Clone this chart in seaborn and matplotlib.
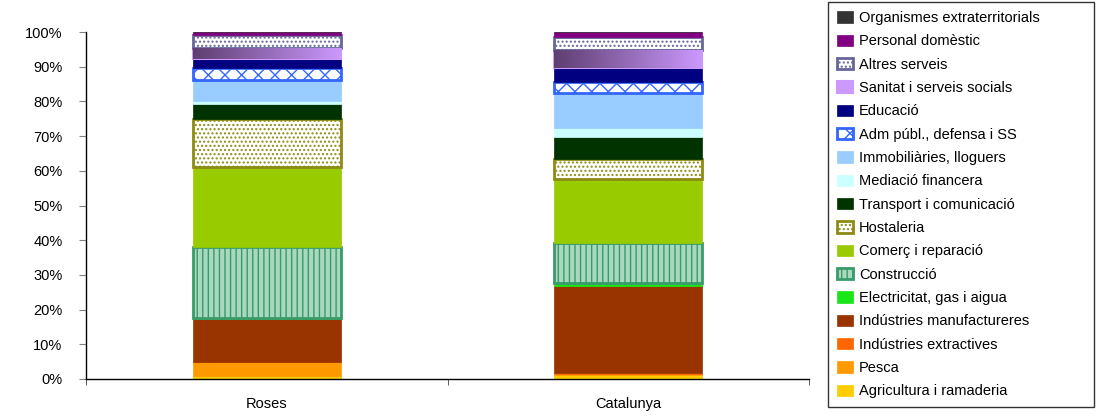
import numpy as np
import matplotlib
matplotlib.use("Agg")
import matplotlib.pyplot as plt
import seaborn as sns
from matplotlib.colors import LinearSegmentedColormap
from matplotlib.ticker import FuncFormatter

# Data: share of employment by sector (%), bottom to top of the stack
places = ['Roses', 'Catalunya']
sectors = ['Agricultura i ramaderia', 'Pesca', 'Indústries extractives',
           'Indústries manufactureres', 'Electricitat, gas i aigua', 'Construcció',
           'Comerç i reparació', 'Hostaleria', 'Transport i comunicació',
           'Mediació financera', 'Immobiliàries, lloguers', 'Adm públ., defensa i SS',
           'Educació', 'Sanitat i serveis socials', 'Altres serveis',
           'Personal domèstic', 'Organismes extraterritorials']
roses = [0.9, 4.0, 0.0, 12.4, 0.4, 20.4, 22.9, 13.9, 4.3, 1.0, 6.0, 3.5, 2.4, 3.4, 3.7, 0.8, 0.0]
catalunya = [1.2, 0.1, 0.3, 25.2, 0.8, 11.5, 18.5, 5.8, 6.4, 2.6, 10.1, 3.2, 3.8, 5.3, 3.8, 1.4, 0.0]

# style per sector: face, edge, hatch, edge width
styles = [
    ('#FFCC00', '#FFCC00', None, 0.5),
    ('#FF9900', '#FF9900', None, 0.5),
    ('#FF6600', '#FF6600', None, 0.5),
    ('#993300', '#993300', None, 0.5),
    ('#19E619', '#19E619', None, 0.5),
    ('#A8D8BE', '#3A9A6A', '|||', 2.0),
    ('#99CC00', '#99CC00', None, 0.5),
    ('#FFFFFF', '#8C8C14', '....', 2.0),
    ('#003300', '#003300', None, 0.5),
    ('#CCFFFF', '#CCFFFF', None, 0.5),
    ('#99CCFF', '#99CCFF', None, 0.5),
    ('#FFFFFF', '#3366FF', 'xx', 2.0),
    ('#000080', '#000080', None, 0.5),
    ('#CC99FF', '#CC99FF', None, 1.5),
    ('#FFFFFF', '#666699', '....', 2.0),
    ('#800080', '#800080', None, 0.5),
    ('#333333', '#333333', None, 0.5),
]

sns.set_style('white')
plt.rcParams['font.family'] = ['Liberation Sans', 'DejaVu Sans']
plt.rcParams['hatch.linewidth'] = 1.0
plt.rcParams['text.color'] = 'black'
plt.rcParams['xtick.labelcolor'] = 'black'
plt.rcParams['ytick.labelcolor'] = 'black'

fig = plt.figure(figsize=(10.98, 4.16), dpi=100)
ax = fig.add_axes([86 / 1098, 37 / 416, 723 / 1098, 347 / 416])

grad_cmap = LinearSegmentedColormap.from_list('san', ['#5E3E70', '#CC99FF'])

bottom = np.zeros(len(places))
for i, name in enumerate(sectors):
    vals = np.array([roses[i], catalunya[i]])
    face, edge, hatch, lw = styles[i]
    sns.barplot(x=places, y=vals, bottom=bottom, color=face, saturation=1,
                edgecolor=edge, linewidth=lw, hatch=hatch, width=0.41,
                errorbar=None, label=name, ax=ax)
    if name == 'Sanitat i serveis socials':
        for p in ax.containers[-1].patches:
            x0, y0 = p.get_x(), p.get_y()
            im = ax.imshow(np.linspace(0, 1, 256).reshape(1, -1), cmap=grad_cmap,
                           extent=[x0, x0 + p.get_width(), y0, y0 + p.get_height()],
                           aspect='auto', zorder=p.get_zorder() + 0.1)
            im.set_clip_path(p)
    bottom = bottom + vals

if ax.get_legend() is not None:
    ax.get_legend().remove()

ax.set_xlim(-0.5, 1.5)
ax.set_ylim(0, 100)
ax.set_yticks(np.arange(0, 101, 10))
ax.yaxis.set_major_formatter(FuncFormatter(lambda v, _: f'{int(v)}%'))
ax.set_xlabel('')
ax.set_ylabel('')
ax.set_xticks([-0.5, 0.5, 1.5], minor=True)
ax.tick_params(axis='x', which='major', length=0, pad=13, labelsize=10.5)
ax.tick_params(axis='x', which='minor', length=4, direction='out', color='#404040')
ax.tick_params(axis='y', length=5, direction='out', color='#808080', pad=12, labelsize=10.5)
ax.tick_params(left=True, bottom=True, which='both')
for s in ['top', 'right']:
    ax.spines[s].set_visible(False)
for s in ['left', 'bottom']:
    ax.spines[s].set_color('black')
    ax.spines[s].set_linewidth(1.0)

handles, labels = ax.get_legend_handles_labels()
leg = fig.legend(handles[::-1], labels[::-1], loc='upper left',
                 bbox_to_anchor=(828 / 1098, 1 - 2 / 416, 266 / 1098, 0),
                 bbox_transform=fig.transFigure, mode='expand',
                 borderaxespad=0, fancybox=False, edgecolor='#333333', fontsize=10.5,
                 handlelength=1.1, handleheight=0.8, handletextpad=0.4,
                 labelspacing=0.64, borderpad=0.62, framealpha=1)
leg.get_frame().set_linewidth(1.0)

fig.savefig('out.png', dpi=100)
